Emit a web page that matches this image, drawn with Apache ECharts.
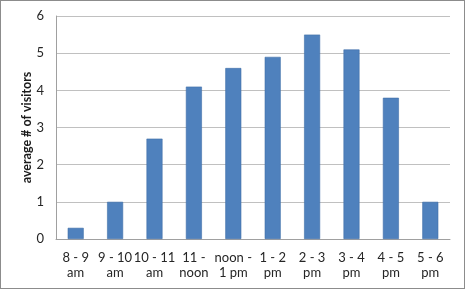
<!DOCTYPE html>
<html><head><meta charset="utf-8">
<script src="https://cdn.jsdelivr.net/npm/echarts@6/dist/echarts.min.js"></script>
<style>
html,body{margin:0;padding:0;background:#fff;}
#c{position:absolute;left:0;top:0;width:463px;height:287px;border:1px solid #8c8c8c;}
</style></head>
<body><div id="c"></div>
<script>
const categories = ["8 - 9\nam","9 - 10\nam","10 - 11\nam","11 -\nnoon","noon -\n1 pm","1 - 2\npm","2 - 3\npm","3 - 4\npm","4 - 5\npm","5 - 6\npm"];
const visitors = [0.3, 1.0, 2.7, 4.1, 4.6, 4.9, 5.5, 5.1, 3.8, 1.0];
const yTicks = {min:0, max:6, interval:1};
const chart = echarts.init(document.getElementById('c'));
const font = "Lato, 'Open Sans', sans-serif";
chart.setOption({
  animation:false,
  grid:{left:55, right:14, top:15, bottom:49},
  xAxis:{type:'category', data:categories,
    axisLine:{lineStyle:{color:'#a0a0a0'}}, axisTick:{show:false},
    axisLabel:{color:'#262626', fontSize:13, fontFamily:font, lineHeight:15, margin:11, interval:0}},
  yAxis:{type:'value', min:yTicks.min, max:yTicks.max, interval:yTicks.interval,
    name:'average # of visitors', nameLocation:'middle', nameGap:23, nameMoveOverlap:false,
    nameTextStyle:{color:'#1a1a1a', fontSize:12.5, fontWeight:'bold', fontFamily:font},
    axisLine:{show:true, lineStyle:{color:'#a0a0a0'}}, axisTick:{show:false},
    axisLabel:{color:'#262626', fontSize:13, fontFamily:font, margin:12},
    splitLine:{lineStyle:{color:'#c0c0c0'}}},
  series:[{type:'bar', data:visitors, barWidth:16,
    itemStyle:{color:'#4f81bd', borderColor:'#3f6fa8', borderWidth:0.6}}]
});
</script></body></html>
